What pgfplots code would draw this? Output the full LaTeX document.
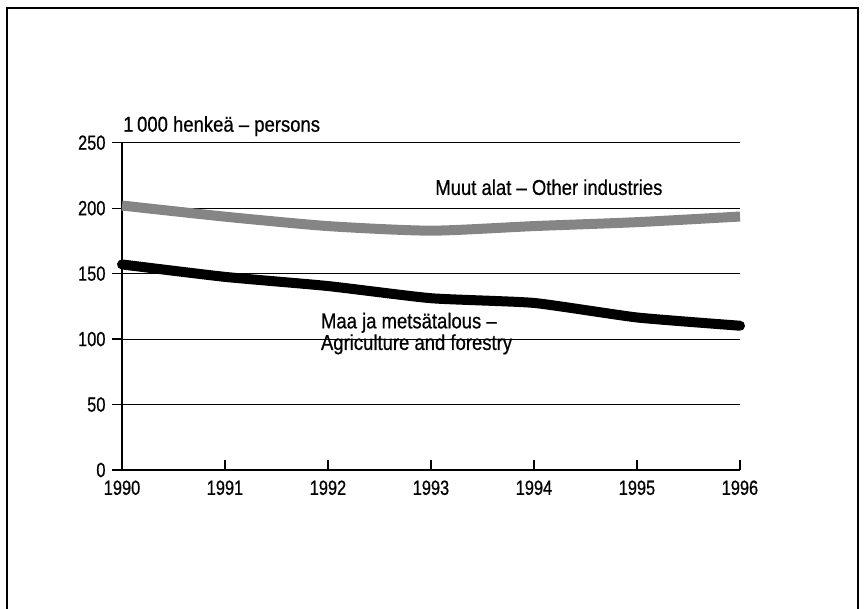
\documentclass[border=0pt]{standalone}
\usepackage{pgfplots}
\pgfplotsset{compat=1.18}
\usepackage{fontspec}
\setmainfont{Liberation Sans}
\newfontfamily\narrow{Liberation Sans}[FakeStretch=0.8, FakeBold=0.6]
\newfontfamily\labelfont{Liberation Sans}[FakeStretch=0.86, FakeBold=0.6]

\begin{document}
\begin{tikzpicture}
\useasboundingbox (0,0) rectangle (865pt,609pt);
% frame of the figure (open at the bottom)
\draw[line width=1.6pt] (7pt,-5pt) -- (7pt,601pt) -- (858pt,601pt) -- (858pt,-5pt);

\begin{axis}[
    at={(122pt,139pt)}, anchor=south west,
    scale only axis,
    width=618pt, height=327.3pt,
    xmin=1990, xmax=1996,
    ymin=0, ymax=250,
    axis x line=bottom, axis y line=left,
    axis line style={line width=1.4pt, -},
    xtick={1990,...,1996},
    ytick={0,50,...,250},
    tick align=inside,
    major tick length=10pt,
    tick style={line width=1.3pt, black},
    ytick style={xshift=-10pt},
    ymajorgrids,
    grid style={line width=1.1pt, black},
    /pgf/number format/1000 sep={},
    /pgf/number format/assume math mode=true,
    tick label style={font=\fontsize{20.5}{22}\selectfont\narrow},
    xticklabel style={yshift=-7pt},
    yticklabel style={xshift=-13pt},
    clip=false,
]
% Muut alat - Other industries
\addplot[black!48, line width=10pt, smooth, tension=0.4, line cap=butt] coordinates {
    (1990,202) (1991,193.5) (1992,186.3) (1993,182.8) (1994,186.3) (1995,189.3) (1996,193.6)};
% Maa ja metsatalous - Agriculture and forestry
\addplot[black, line width=10pt, smooth, tension=0.3, line cap=round] coordinates {
    (1990,157) (1991,147.5) (1992,140.5) (1993,131.2) (1994,127.6) (1995,116.5) (1996,110.2)};

\node[anchor=base west, font=\fontsize{21.5}{23}\selectfont\labelfont, inner sep=0pt]
    at (axis cs:1990.01,258.4) {1\,000 henkeä – persons};
\node[anchor=base west, font=\fontsize{21.5}{23}\selectfont\labelfont, inner sep=0pt]
    at (axis cs:1993.04,210.1) {Muut alat – Other industries};
\node[anchor=base west, font=\fontsize{21.5}{23}\selectfont\labelfont, inner sep=0pt]
    at (axis cs:1991.93,108.2) {Maa ja metsätalous –};
\node[anchor=base west, font=\fontsize{21.5}{23}\selectfont\labelfont, inner sep=0pt]
    at (axis cs:1991.93,91.7) {Agriculture and forestry};
\end{axis}
\end{tikzpicture}
\end{document}
